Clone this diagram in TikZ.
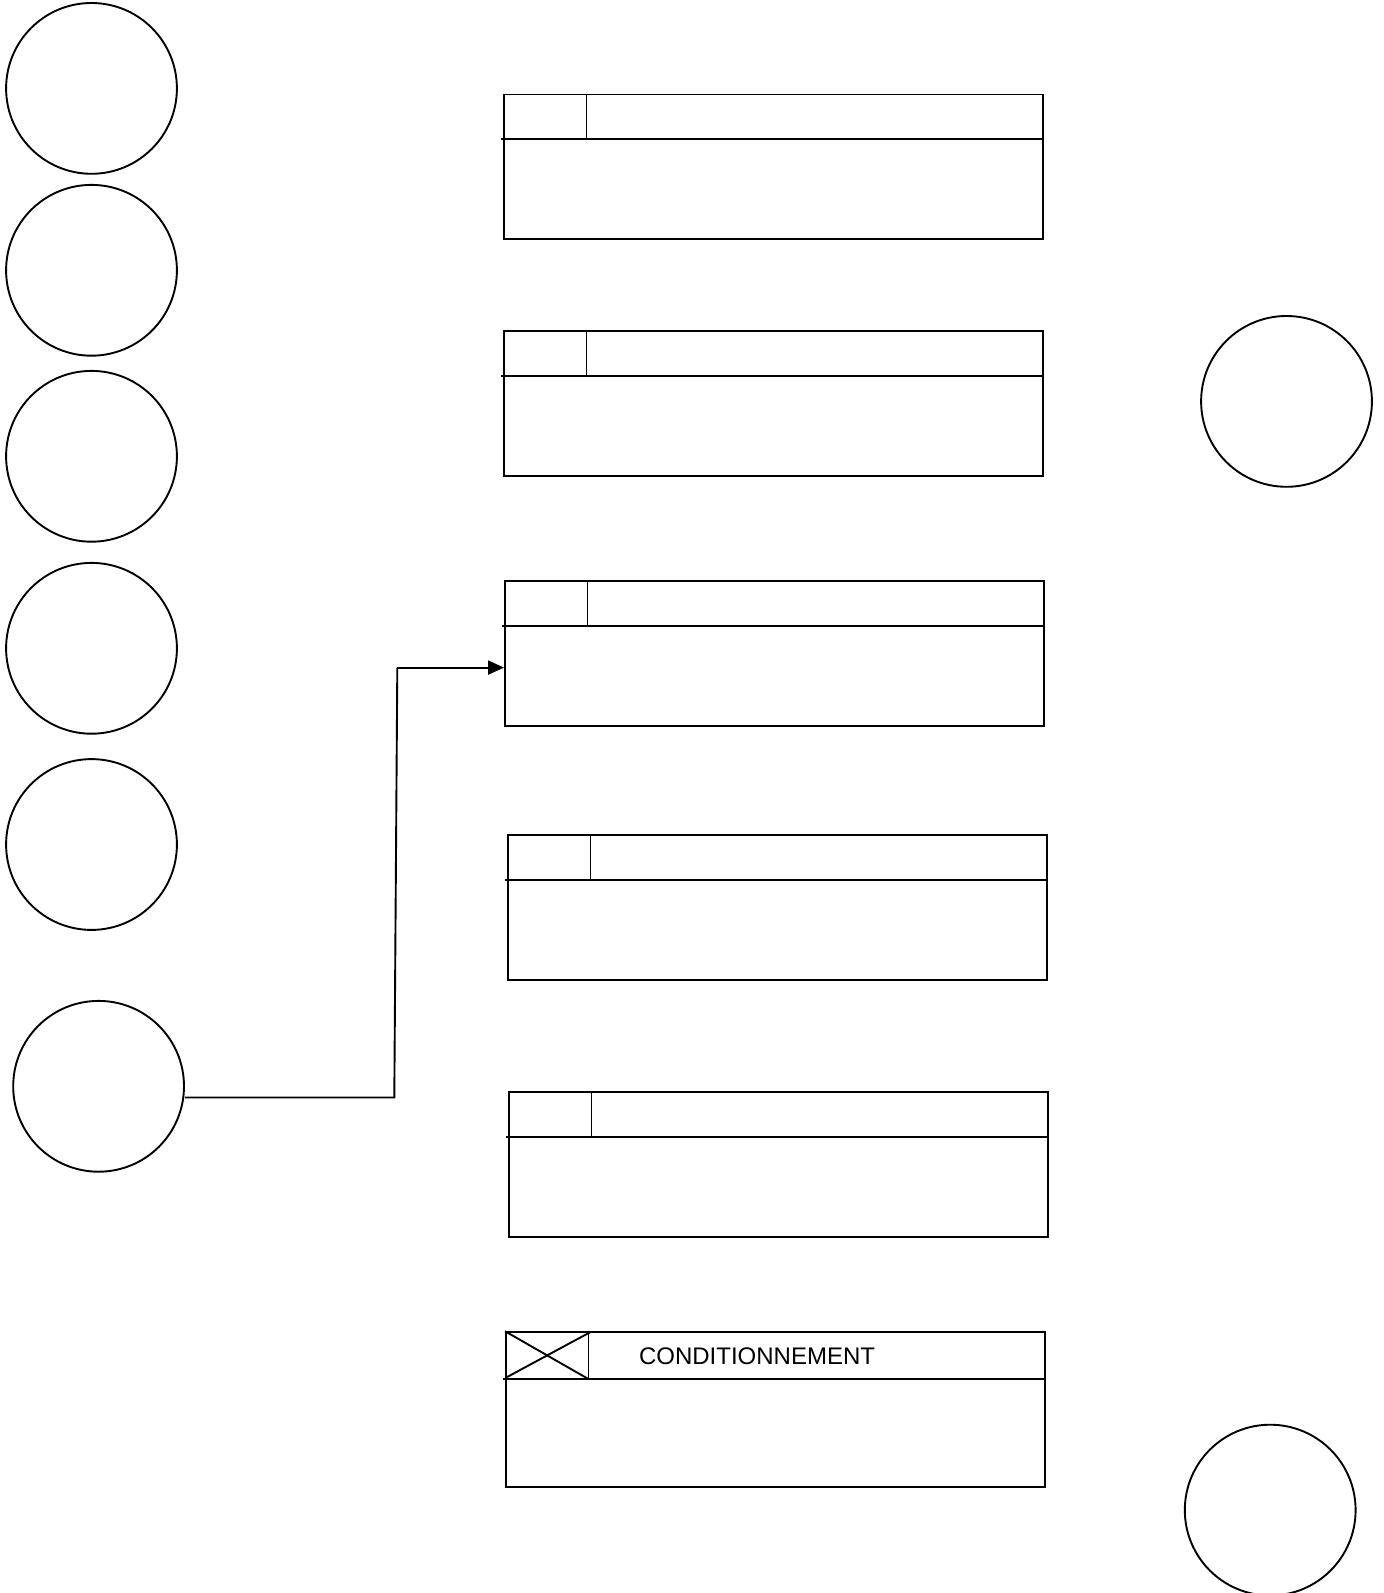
\documentclass[tikz,border=0pt]{standalone}
\usepackage{fontspec}
\setmainfont{Liberation Sans}
\usepackage{tikz}
\usetikzlibrary{arrows.meta,positioning,calc}
% header of a table box: #1 box, #2 header height
\newcommand{\boxhead}[2]{%
  \draw ([xshift=-1pt,yshift=-#2]#1.north west) -- ([yshift=-#2]#1.north east);
  \draw ([xshift=41.7pt]#1.north west) -- ++(0,-#2);}

\begin{document}
\begin{tikzpicture}[x=0.5pt, y=-0.5pt, line width=0.95pt,
  circ/.style={draw, circle, minimum size=85.4pt, inner sep=0pt},
  tbl/.style={draw, rectangle, minimum width=269.3pt, minimum height=72.15pt, inner sep=0pt},
  arr/.style={-{Triangle[length=8pt,width=7pt]}}]
  \useasboundingbox (0,0) rectangle (1383,1593);
  % left column
  \node[circ] (c1) at (91.5,88.4) {};
  \node[circ] (c2) at (91.5,270.3) {};
  \node[circ] (c3) at (91.5,456.3) {};
  \node[circ] (c4) at (91.5,648.3) {};
  \node[circ] (c5) at (91.5,844.5) {};
  \node[circ] (c6) at (98.6,1086.3) {};
  % right column
  \node[circ] (c7) at (1286.5,401.4) {};
  \node[circ] (c8) at (1270.2,1510.1) {};
  % tables
  \node[tbl] (b1) at (773.3,166.65) {};
  \node[tbl] (b2) at (773.3,403.45) {};
  \node[tbl] (b3) at (774.3,653.45) {};
  \node[tbl] (b4) at (777.35,907.45) {};
  \node[tbl] (b5) at (778.35,1164.55) {};
  \node[tbl, minimum height=77.25pt] (b6) at (775.3,1409.45) {};
  \boxhead{b1}{22.9pt} \boxhead{b2}{22.9pt} \boxhead{b3}{22.9pt}
  \boxhead{b4}{22.9pt} \boxhead{b5}{22.9pt} \boxhead{b6}{23.9pt}
  \draw (b6.north west) -- ([xshift=41.7pt,yshift=-23.9pt]b6.north west);
  \draw ([xshift=1pt,yshift=-22.9pt]b6.north west) -- ([xshift=42.5pt,yshift=-0.5pt]b6.north west);
  \node[font=\fontsize{12pt}{14pt}\selectfont] (t6) at (757,1356.6) {CONDITIONNEMENT};
  % link
  \coordinate (k1) at (394.3,1097.5);
  \coordinate (k2) at (397.3,667.6);
  \draw (c6.east |- k1) -- (k1) -- (k2);
  \draw[arr] (k2) -- (k2 -| b3.west);
\end{tikzpicture}
\end{document}
